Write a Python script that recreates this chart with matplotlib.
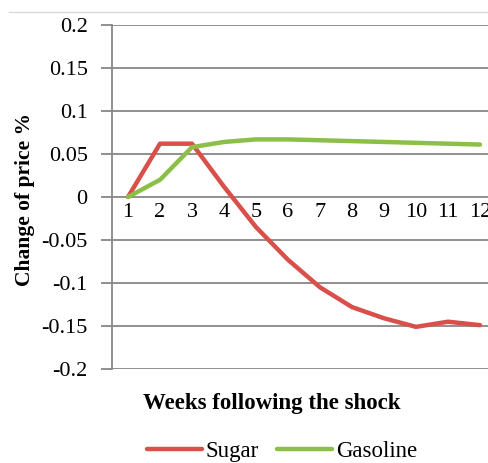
import numpy as np
import matplotlib
matplotlib.use("Agg")
import matplotlib.pyplot as plt
from matplotlib.lines import Line2D

weeks = [1, 2, 3, 4, 5, 6, 7, 8, 9, 10, 11, 12]
sugar = [0.0, 0.062, 0.062, 0.012, -0.035, -0.073, -0.105, -0.128, -0.141, -0.151, -0.145, -0.149]
gasoline = [0.0, 0.020, 0.058, 0.064, 0.067, 0.067, 0.066, 0.065, 0.064, 0.063, 0.062, 0.061]
yticks = [0.2, 0.15, 0.1, 0.05, 0, -0.05, -0.1, -0.15, -0.2]
ytick_labels = ["0.2", "0.15", "0.1", "0.05", "0", "-0.05", "-0.1", "-0.15", "-0.2"]

plt.rcParams['font.family'] = ['Liberation Serif', 'DejaVu Serif']

red = '#d94f4a'
green = '#8cbf47'
grid = '#878787'

fig = plt.figure(figsize=(4.89, 4.63), dpi=100)
ax = fig.add_axes([112 / 489, 94 / 463, 384 / 489, 344 / 463])

ax.plot(weeks, sugar, color=red, lw=3.2, solid_capstyle='round', zorder=3)
ax.plot(weeks, gasoline, color=green, lw=3.2, solid_capstyle='round', zorder=3)

ax.set_xlim(0.5, 12.5)
ax.set_ylim(-0.2, 0.2)
ax.set_yticks(yticks)
ax.set_yticklabels(ytick_labels)
for t in yticks:
    ax.axhline(t, color=grid, lw=1.3, zorder=1)
for s in ['top', 'right', 'bottom']:
    ax.spines[s].set_visible(False)
ax.spines['left'].set_color(grid)
ax.spines['left'].set_linewidth(1.3)
ax.tick_params(axis='y', length=8, width=1.3, color=grid, labelsize=16, pad=9.5)
ax.set_xticks([])

# category labels sit just under the zero line
for w in weeks:
    ax.text(w, -0.007, str(w), ha='center', va='top', fontsize=16)

fig.text(25 / 489, 1 - 199 / 463, "Change of price %", rotation=90, ha='center', va='center',
         fontsize=15.5, fontweight='bold')
fig.text(272 / 489, 1 - 403 / 463, "Weeks following the shock", ha='center', va='center',
         fontsize=16.5, fontweight='bold')

handles = [Line2D([], [], color=red, lw=3.2, solid_capstyle='round'),
           Line2D([], [], color=green, lw=3.2, solid_capstyle='round')]
fig.legend(handles, ["Sugar", "Gasoline"], loc='center', bbox_to_anchor=(282 / 489, 1 - 451 / 463),
           ncol=2, frameon=False, fontsize=16.5, handlelength=2.4, handletextpad=0.15,
           columnspacing=0.8, borderpad=0)

fig.add_artist(Line2D([9 / 489, 1], [1 - 12 / 463, 1 - 12 / 463], color='#d9d9d9', lw=1))

fig.savefig("out.png", dpi=100)
